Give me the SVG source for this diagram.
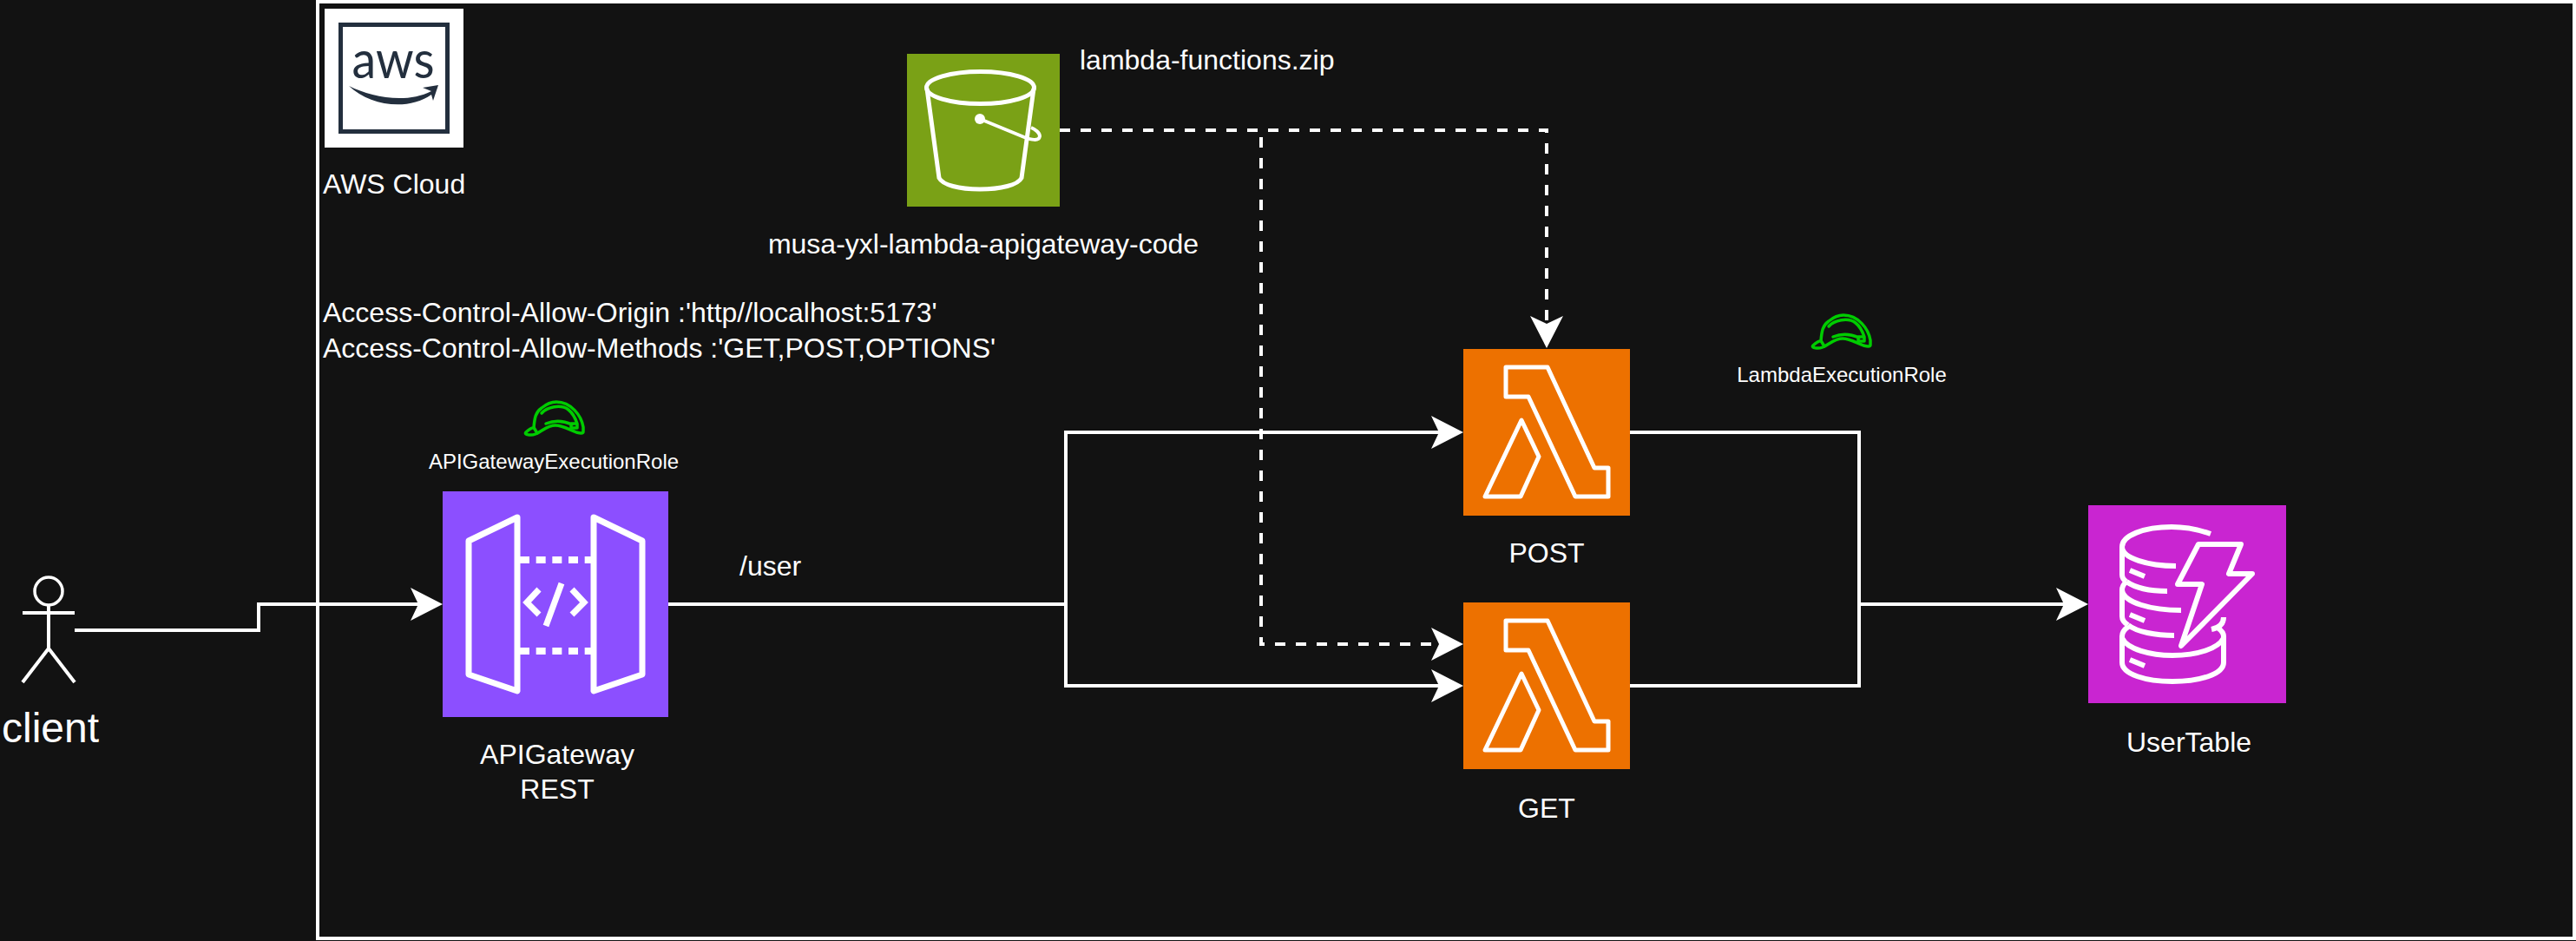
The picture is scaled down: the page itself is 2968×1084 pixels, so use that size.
<svg xmlns="http://www.w3.org/2000/svg" width="2968" height="1084" viewBox="0 0 2968 1084">
<style>
text{font-family:"Liberation Sans",Arial,sans-serif;fill:#fff;font-size:32px}
.m{text-anchor:middle}
.s{font-size:24px}
.conn{fill:none;stroke:#fff;stroke-width:4}
.dash{stroke-dasharray:12 12}
.ic{fill:none;stroke:#fff;stroke-width:6;stroke-linejoin:round}
.lam{fill:none;stroke:#fff;stroke-width:5;stroke-linejoin:round}
.hat{fill:none;stroke:#00cc00;stroke-width:3.500;stroke-linejoin:round;stroke-linecap:round}
</style>
<defs>
<marker id="arr" markerUnits="userSpaceOnUse" markerWidth="38" markerHeight="38" viewBox="0 0 38 38" refX="29" refY="19" orient="auto"><path d="M0 0L37 19L0 38L9 19Z" fill="#fff"/></marker>
<g id="lambda"><path class="lam" d="M1735 423H1783L1837 539H1853V572H1815L1761 457H1735Z"/><path class="lam" d="M1753 484L1773 526L1752 572H1711Z"/></g>
<g id="hat"><path class="hat" d="M0 35C3 32 6 30 9 29.500C10 18 11 12 18 7C24 2 30 0 35 0C52 0 64 16 66 29V34C66 37 62 36 58 35C48 31 42 27 34 27C24 27 20 33 11 37C6 39 -3 38 0 35Z"/><path class="hat" d="M9 29.500L13 36M18 13C24 6 40 2 49 9C54 13 57 19 59 25M23 25C33 21 44 22 53 26M52 25H59V30H52Z"/></g>
</defs>
<rect width="2968" height="1084" fill="#121212"/>
<g id="aws-cloud">
<rect x="366" y="2" width="2600" height="1079" fill="none" stroke="#fff" stroke-width="4"/>
<rect x="374" y="10" width="160" height="160" fill="#fff"/>
<rect x="392.500" y="28.500" width="123" height="123" fill="#fff" stroke="#232f3e" stroke-width="5"/>
<text x="453" y="90" class="m" textLength="95" lengthAdjust="spacingAndGlyphs" style="font-family:Lato,sans-serif;font-size:60px;fill:#232f3e">aws</text>
<path d="M402 99C428 112 468 120 497 105L487 101L505 98L499 116L497 109C470 128 426 122 402 99Z" fill="#232f3e"/>
<text x="372" y="223">AWS Cloud</text>
<text x="372" y="371">Access-Control-Allow-Origin :'http//localhost:5173'</text>
<text x="372" y="412">Access-Control-Allow-Methods :'GET,POST,OPTIONS'</text>
</g>
<g id="connectors">
<path class="conn" marker-end="url(#arr)" d="M86 726H298V696H502"/>
<path class="conn" marker-end="url(#arr)" d="M770 696H1228V498H1678"/>
<path class="conn" marker-end="url(#arr)" d="M770 696H1228V790H1678"/>
<path class="conn dash" marker-end="url(#arr)" d="M1221 150H1782V393"/>
<path class="conn dash" marker-end="url(#arr)" d="M1221 150H1453V742H1678"/>
<path class="conn" marker-end="url(#arr)" d="M1878 498H2142V696H2398"/>
<path class="conn" d="M1878 790H2142V696"/>
</g>
<g id="client">
<path class="conn" d="M56 697V747L26 786M56 747L86 786M26 706H86"/>
<circle cx="56" cy="681" r="16" fill="none" stroke="#fff" stroke-width="3.500"/>
<text x="58" y="855" class="m" style="font-size:48px">client</text>
</g>
<g id="api-gateway">
<use href="#hat" x="606" y="463"/>
<text x="638" y="540" class="m s">APIGatewayExecutionRole</text>
<rect x="510" y="566" width="260" height="260" fill="#8c4fff"/>
<path class="ic" style="stroke-width:7" d="M596 596L540 623V777L596 796ZM684 596L740 623V777L684 796Z"/>
<path d="M599 645H681M599 750H681" fill="none" stroke="#fff" stroke-width="8" stroke-dasharray="11 7.670"/>
<path class="ic" style="stroke-width:7;stroke-linejoin:miter" d="M621 679L607 694L621 708M659 679L673 694L659 708M647 672L629 721"/>
<text x="642" y="880" class="m">APIGateway</text>
<text x="642" y="920" class="m">REST</text>
</g>
<g id="s3-bucket">
<rect x="1045" y="62" width="176" height="176" fill="#7aa116"/>
<ellipse cx="1129.500" cy="101" rx="62" ry="18.500" fill="none" stroke="#fff" stroke-width="5"/>
<path fill="none" stroke="#fff" stroke-width="5" stroke-linejoin="round" d="M1068 102L1082 205C1086 213 1105 218 1129 218C1153 218 1173 213 1177 205L1191 102"/>
<path fill="none" stroke="#fff" stroke-width="4" d="M1129 137L1180 158C1188 161 1197 163 1198 157C1198 153 1193 149 1188 147"/>
<circle cx="1129" cy="137" r="6" fill="#fff"/>
<text x="1244" y="80">lambda-functions.zip</text>
<text x="1133" y="292" class="m">musa-yxl-lambda-apigateway-code</text>
</g>
<g id="lambda-post">
<rect x="1686" y="402" width="192" height="192" fill="#ed7100"/>
<use href="#lambda"/>
<text x="1782" y="648" class="m">POST</text>
</g>
<g id="lambda-get">
<rect x="1686" y="694" width="192" height="192" fill="#ed7100"/>
<use href="#lambda" y="292"/>
<text x="1782" y="942" class="m">GET</text>
</g>
<g id="lambda-role">
<use href="#hat" x="2089" y="363"/>
<text x="2122" y="440" class="m s">LambdaExecutionRole</text>
</g>
<g id="user-table">
<rect x="2406" y="582" width="228" height="228" fill="#c925d1"/>
<path class="ic" d="M2547 615C2533 610 2518 607 2502 607C2470 607 2445 617 2445 630V662Q2445 667 2450 670M2445 630C2445 643 2475 652 2507 652"/>
<path class="ic" d="M2450 670C2460 677 2478 681 2497 681M2450 670Q2445 674 2445 680V710Q2445 716 2452 720M2445 680C2447 694 2478 703 2513 703"/>
<path class="ic" d="M2452 720C2462 728 2484 732 2505 732M2452 722Q2445 727 2445 733V763C2445 777 2473 785 2503 785C2534 785 2562 777 2562 763V733Q2562 728 2555 723M2445 735C2451 748 2478 755 2503 755C2532 755 2556 747 2562 735"/>
<path class="ic" d="M2548 725Q2562 722 2562 711"/>
<path class="ic" d="M2454 657L2471 664M2454 708L2471 715M2454 760L2471 767"/>
<path class="ic" d="M2533 627H2582L2568 661H2595L2513 744L2537 673H2509Z"/>
<text x="2522" y="866" class="m">UserTable</text>
</g>
<text x="852" y="663">/user</text>
</svg>
